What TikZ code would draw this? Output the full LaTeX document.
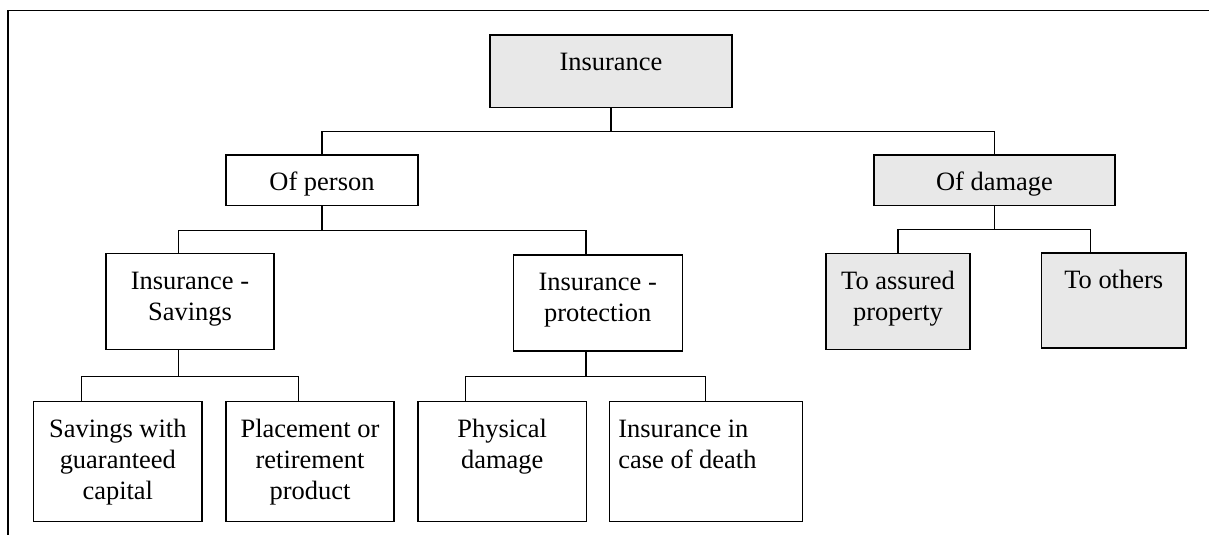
\documentclass[tikz,border=0pt]{standalone}
\usepackage{fontspec}
\setmainfont{Liberation Serif}
\usetikzlibrary{calc}

\tikzset{every picture/.style={line width=0.75pt}}
\tikzset{
  box/.style={draw, line width=1.1pt, inner sep=0pt},
  shaded/.style={box, fill={rgb, 255:red, 232; green, 232; blue, 232}},
  size/.style 2 args={minimum width=#1*0.75pt, minimum height=#2*0.75pt},
  lbl/.style={inner sep=0pt, anchor=north, align=center, font=\fontsize{19.85}{23.25}\selectfont},
  link/.style={line width=0.85pt},
}

\begin{document}
\begin{tikzpicture}[x=0.75pt,y=0.75pt,yscale=-1,xscale=1]
\useasboundingbox (0,0) rectangle (1209,535);

%Shape: Frame
\draw [line width=1.1pt] (1209,10.5) -| (8,535) ;

%Shape: Rectangle [top]
\node [shaded, size={242}{72.5}] (ins) at (611,71.25) {};
%Shape: Rectangle [level 1]
\node [box, size={192}{50.5}] (per) at (322,180.25) {};
\node [shaded, size={241}{50.5}] (dam) at (994.5,180.25) {};
%Shape: Rectangle [level 2]
\node [box, size={168}{96}] (sav) at (190,301.3) {};
\node [box, size={169}{96}] (prot) at (597.75,303) {};
\node [shaded, size={144}{96}] (asr) at (898,301.3) {};
\node [shaded, size={144.5}{95}] (oth) at (1113.75,300.5) {};
%Shape: Rectangle [level 3]
\node [box, size={168.4}{120.4}] (gua) at (117.8,461.5) {};
\node [box, size={168.4}{120.4}] (pla) at (310,461.5) {};
\node [box, size={168.4}{120.4}] (phy) at (502.2,461.5) {};
\node [box, size={193}{120.4}] (dea) at (705.8,461.5) {};

%Straight Lines
\draw [link] (ins.south) -- ++(0,23.5) coordinate (j1) ;
\draw [link] (per.north) |- (j1) -| (dam.north) ;
%Straight Lines
\draw [link] (per.south) -- ++(0,24) coordinate (j2) ;
\draw [link] ($(sav.north)+(-11.3,0)$) |- (j2) -| ($(prot.north)+(-11.75,0)$) ;
%Straight Lines
\draw [link] (dam.south) -- ++(0,23.5) coordinate (j3) ;
\draw [link] (asr.north) |- (j3) -| ($(oth.north)+(-23.6,0)$) ;
%Straight Lines
\draw [link] ($(sav.south)+(-11.3,0)$) -- ++(0,26.4) coordinate (j4) ;
\draw [link] ($(gua.north)+(-35.9,0)$) |- (j4) -| ($(pla.north)+(-11.9,0)$) ;
%Straight Lines
\draw [link] ($(prot.south)+(-11.75,0)$) -- ++(0,24.7) coordinate (j5) ;
\draw [link] ($(phy.north)+(-36.4,0)$) |- (j5) -| (dea.north) ;

% Text Node
\node [lbl] (ins-t) at ($(ins.north)+(0,14.3)$) {\strut Insurance};
% Text Node
\node [lbl] (per-t) at ($(per.north)+(0,14.3)$) {\strut Of person};
% Text Node
\node [lbl] (dam-t) at ($(dam.north)+(0,14.3)$) {\strut Of damage};
% Text Node
\node [lbl] (sav-t) at ($(sav.north)+(0,14.3)$) {\strut Insurance -\\Savings};
% Text Node
\node [lbl] (prot-t) at ($(prot.north)+(0,14.3)$) {\strut Insurance -\\protection};
% Text Node
\node [lbl] (asr-t) at ($(asr.north)+(0,14.3)$) {\strut To assured\\property};
% Text Node
\node [lbl] (oth-t) at ($(oth.north)+(0,14.3)$) {\strut To others};
% Text Node
\node [lbl] (gua-t) at ($(gua.north)+(0,14.3)$) {\strut Savings with\\guaranteed\\capital};
% Text Node
\node [lbl] (pla-t) at ($(pla.north)+(0,14.3)$) {\strut Placement or\\retirement\\product};
% Text Node
\node [lbl] (phy-t) at ($(phy.north)+(0,14.3)$) {\strut Physical\\damage};
% Text Node
\node [lbl, anchor=north west, align=left] (dea-t) at ($(dea.north west)+(9.3,14.3)$) {\strut Insurance in\\case of death};

\end{tikzpicture}
\end{document}
